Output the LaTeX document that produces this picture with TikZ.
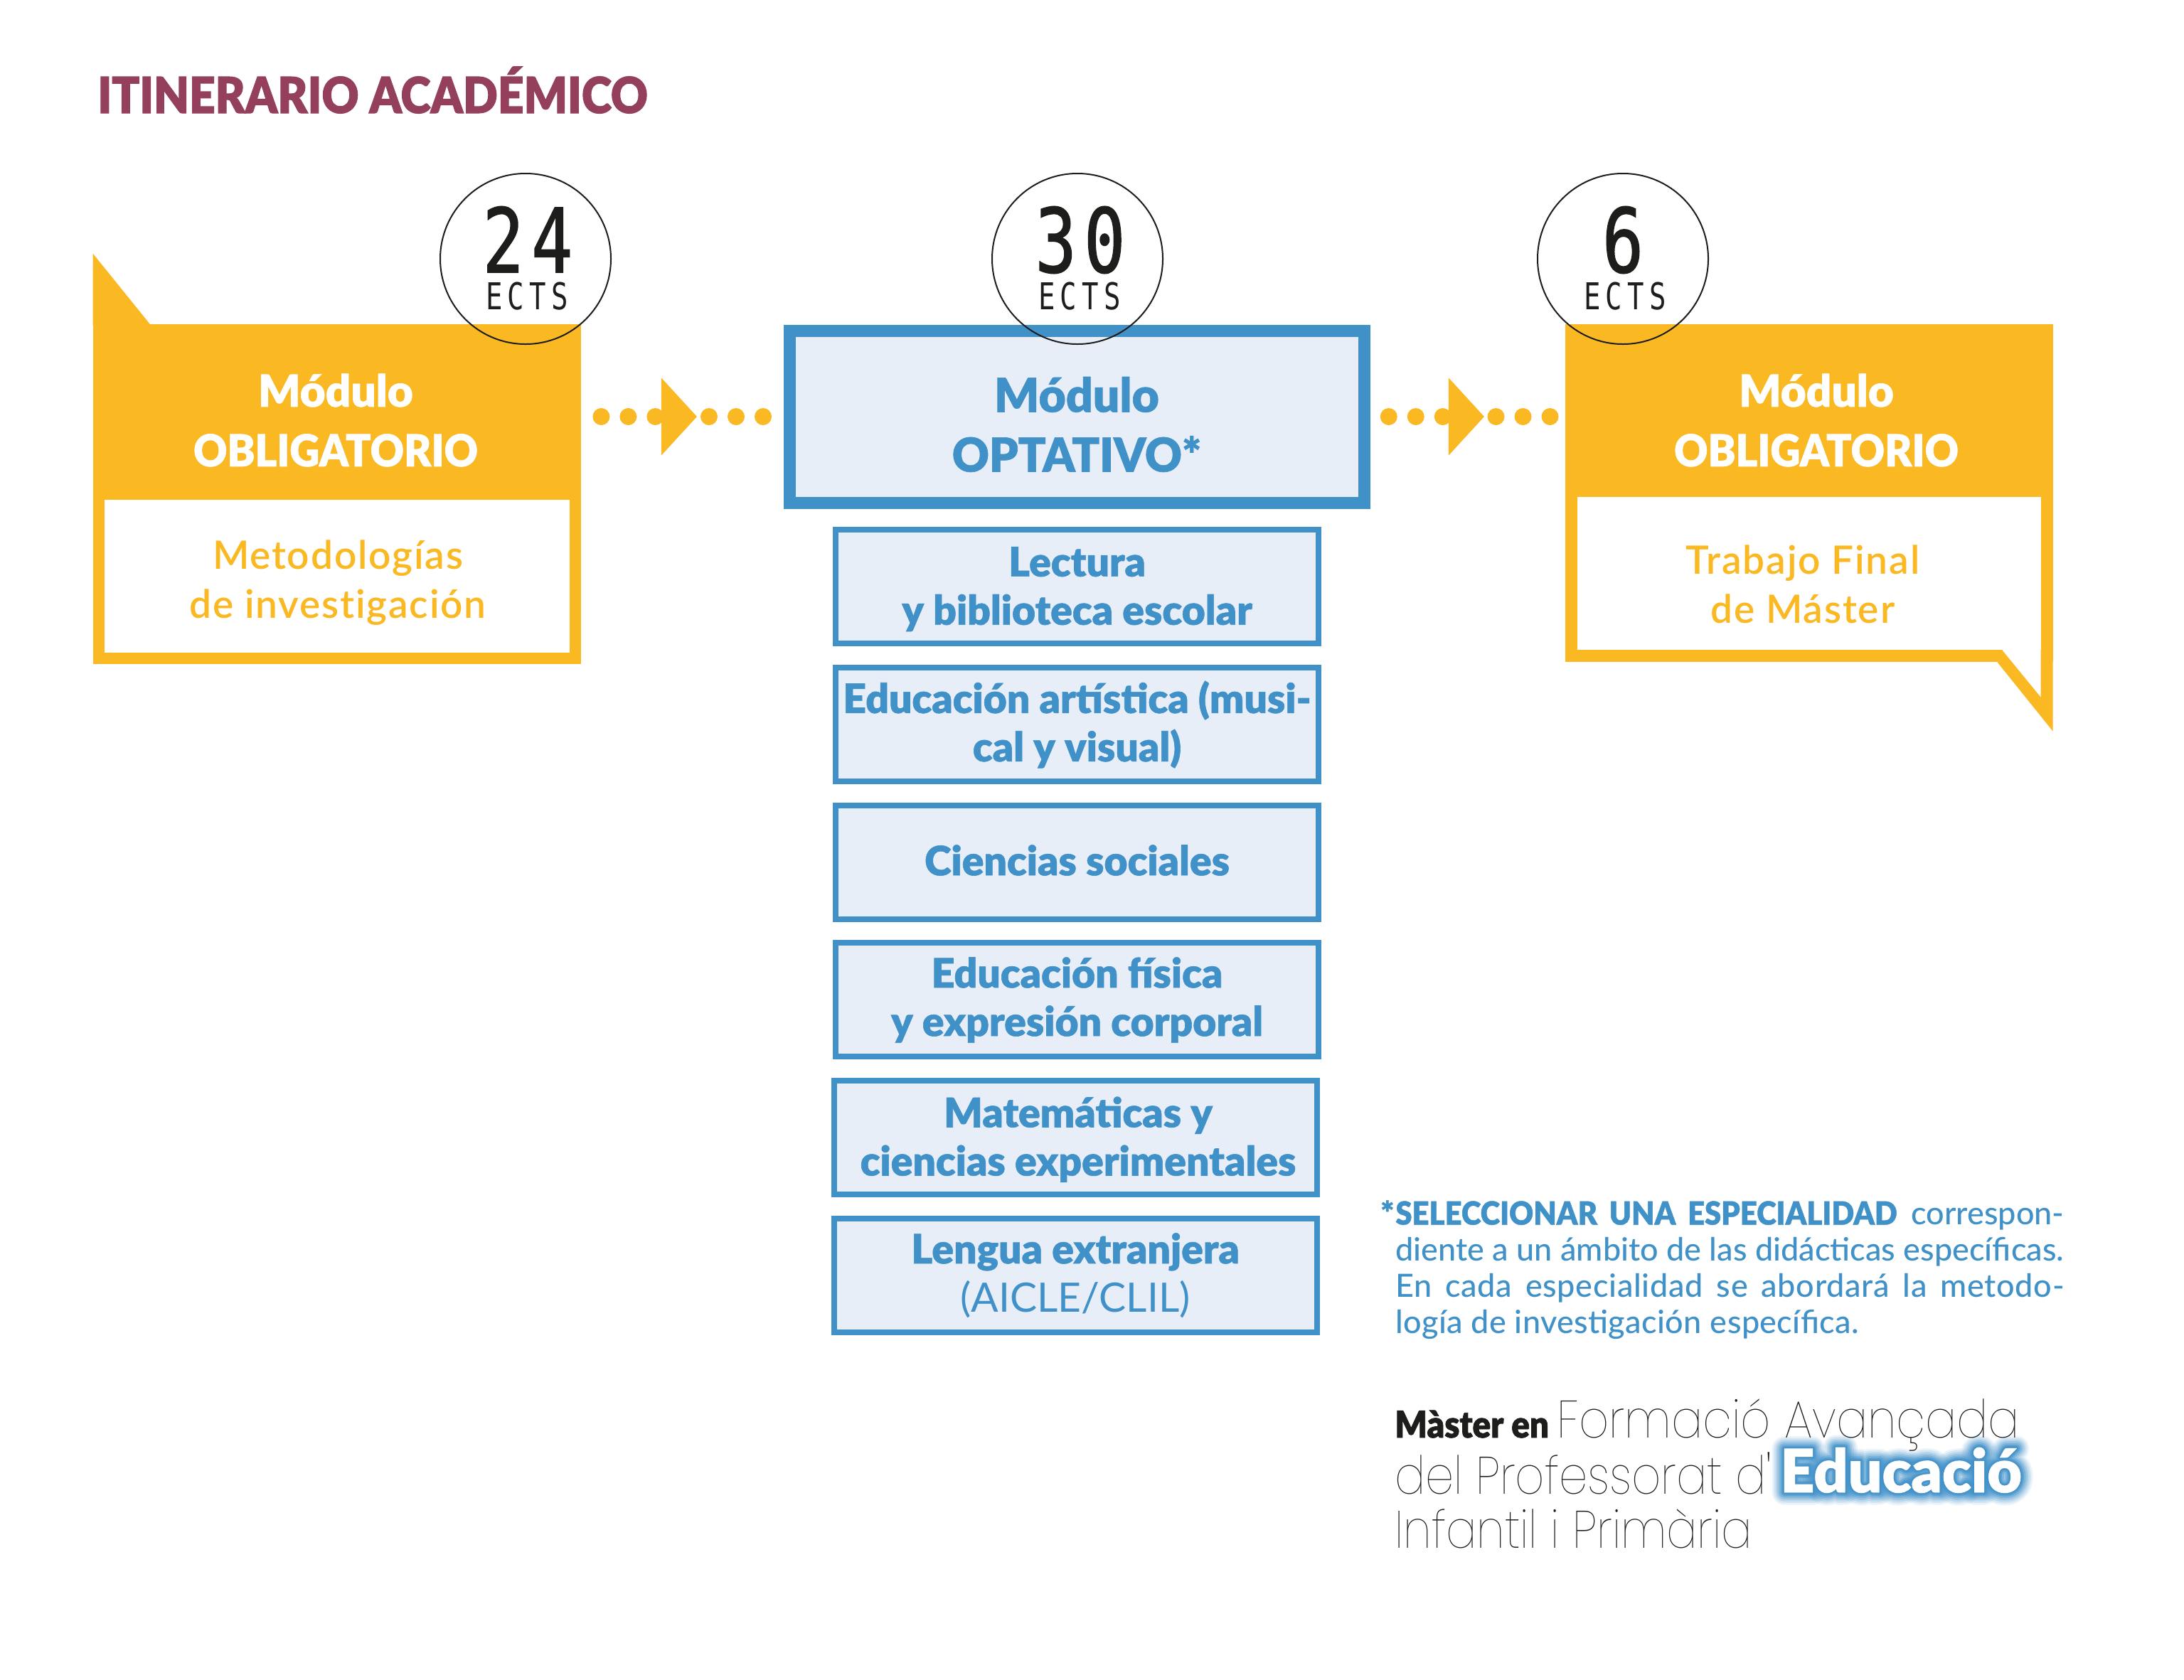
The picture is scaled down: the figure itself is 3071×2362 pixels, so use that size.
\documentclass[tikz,border=0pt]{standalone}
\usepackage{fontspec}
\setmainfont{Lato}
\newfontfamily\heavyfont[FakeBold=1]{Lato Black}
\newfontfamily\heavynarrow[FakeBold=1,FakeStretch=.94]{Lato Black}
\newfontfamily\titlefont[FakeBold=1.5,FakeStretch=.915]{Lato Black}
\newfontfamily\midfont[LetterSpace=3.3,Ligatures=NoCommon]{Lato Semibold}
\newfontfamily\notefont{Lato Medium}
\newfontfamily\thinfont[FakeStretch=.885]{Poppins Thin}
\newfontfamily\digfont[FakeStretch=.77,LetterSpace=8.6,FakeBold=1.2]{DejaVu Sans Mono}
\newfontfamily\ectsfont[FakeStretch=.75,LetterSpace=14]{DejaVu Sans Mono}
\usetikzlibrary{positioning,shapes.geometric}
\definecolor{modyel}{HTML}{FAB822}
\definecolor{modblue}{HTML}{4191C9}
\definecolor{modpale}{HTML}{E7EEF8}
\definecolor{titlered}{HTML}{943F5B}
\definecolor{inkblack}{HTML}{1D1D1B}
\tikzstyle{head}=[rectangle,fill=modyel,minimum width=343pt,inner sep=0pt]
\tikzstyle{body}=[rectangle,draw=modyel,fill=white,line width=8pt,minimum width=335pt,inner sep=0pt]
\tikzstyle{headtxt}=[white,align=center,font=\heavyfont\fontsize{31}{42}\selectfont]
\tikzstyle{bodytxt}=[modyel,align=center,font=\midfont\fontsize{27.5}{34.5}\selectfont]
\tikzstyle{optbox}=[rectangle,draw=modblue,fill=modpale,line width=8.25pt,minimum width=404pt,minimum height=121pt]
\tikzstyle{subbox}=[rectangle,draw=modblue,fill=modpale,line width=4pt,minimum width=339.5pt,minimum height=80pt,inner sep=0pt,
			  align=center,text=modblue,font=\heavyfont\fontsize{28.5}{34}\selectfont]
\tikzstyle{ring}=[circle,draw=inkblack,line width=1pt,minimum size=120pt,inner sep=0pt]
\tikzstyle{numtxt}=[anchor=base,inkblack,inner sep=0pt,font=\digfont\fontsize{62.5}{64}\selectfont]
\tikzstyle{ectstxt}=[anchor=base,inkblack,inner sep=0pt,font=\ectsfont\fontsize{26}{26}\selectfont]
\tikzstyle{tip}=[isosceles triangle,isosceles triangle stretches,shape border rotate=0,fill=modyel,
			  minimum width=54.5pt,minimum height=25pt,inner sep=0pt,anchor=apex]
\tikzstyle{dotline}=[modyel,line width=12pt,line cap=round,dash pattern=on 0pt off 19pt]
\tikzstyle{noteline}=[anchor=west,inner sep=0pt,align=left,modblue,font=\notefont\fontsize{22.5}{25.5}\selectfont]
\tikzstyle{thinline}=[anchor=base west,inner sep=0pt,inkblack,font=\thinfont\fontsize{37}{37}\selectfont]

\begin{document}
\begin{tikzpicture}[x=.5pt,y=-.5pt]

	\useasboundingbox (0,0) rectangle (3071,2362);

	\node[anchor=base west,inner sep=0pt,titlered,font=\titlefont\fontsize{35}{35}\selectfont] (title) at (137,159) {ITINERARIO ACADÉMICO};

	\node[head,minimum height=123.5pt] (headA) at (474,579.5) {};
	\node[body,minimum height=115.5pt,below=-8pt of headA] (bodyA) {};
	\fill[modyel] ([yshift=-1pt]headA.north west) -- ++(0,-101) -- ++(80,99) -- ++(0,2) -- cycle;
	\node[headtxt] (labA) at (472,591) {Módulo\\{\heavynarrow OBLIGATORIO}};
	\node[bodytxt] (txtA) at (475,820) {Metodologías\\de investigación};

	\node[optbox] (opt) at (1514.5,586.5) {};
	\node[headtxt,text=modblue,font=\heavyfont\fontsize{33}{42}\selectfont] (labO) at (1514,597) {Módulo\\{\addfontfeature{FakeStretch=.97}OPTATIVO*}};

	\node[subbox,below=12.8pt of opt] (sub1) {\rule{0pt}{24pt}Lectura\\y biblioteca escolar};
	\node[subbox,below=12.85pt of sub1] (sub2) {Educación artística (musi-\\cal y visual)};
	\node[subbox,below=12.85pt of sub2] (sub3) {\rule[-3pt]{0pt}{3pt}Ciencias sociales};
	\node[subbox,below=12.85pt of sub3] (sub4) {Educación física\\y expresión corporal};
	\node[subbox,below=12.85pt of sub4,xshift=-1.25pt] (sub5) {\hspace*{4pt}\rule{0pt}{24pt}Matemáticas y\\\hspace*{4pt}ciencias experimentales};
	\node[subbox,below=12.85pt of sub5] (sub6) {Lengua extranjera\\{\normalfont(AICLE/CLIL)}};

	\node[head,minimum height=121.5pt] (headB) at (2543.5,577.5) {};
	\node[body,minimum width=334.5pt,minimum height=116pt,line width=8.5pt,below=-8.5pt of headB] (bodyB) {};
	\fill[modyel] (bodyB.south east) ++(-78,0) -- ++(78,97) -- ++(0,-114) -- cycle;
	\fill[white] (bodyB.south east) ++(-71,-19) -- ++(0,2) -- ++(54,66) -- ++(0,-68) -- cycle;
	\node[headtxt] (labB) at (2554,591) {Módulo\\{\heavynarrow OBLIGATORIO}};
	\node[bodytxt] (txtB) at (2535,822) {Trabajo Final\\de Máster};

	\node[ring] (ringA) at (739,364) {};
	\node[numtxt] (numA) at (742,383) {24};
	\node[ectstxt] (ectsA) at (741,435) {ECTS};
	\node[ring] (ringO) at (1515,364) {};
	\node[numtxt] (numO) at (1519,383) {30};
	\node[ectstxt] (ectsO) at (1518,435) {ECTS};
	\node[ring] (ringB) at (2282,364) {};
	\node[numtxt] (numB) at (2282,383) {6};
	\node[ectstxt] (ectsB) at (2285,435) {ECTS};

	\node[tip] (tipA) at (981,586) {};
	\node[tip] (tipB) at (2088,586) {};
	\draw[dotline,shorten <=14pt] (headA.east |- tipA.apex) -- (tipA.apex);
	\draw[dotline,shorten <=8pt] (tipA.apex) -- (opt.west |- tipA.apex);
	\draw[dotline,shorten <=13pt] (opt.east |- tipB.apex) -- (tipB.apex);
	\draw[dotline,shorten <=7.75pt] (tipB.apex) -- (headB.west |- tipB.apex);

	\node[noteline] (note) at (1962,1786) {\makebox[470pt][s]{\llap{\heavyfont*\hspace{1pt}}{\heavynarrow\addfontfeature{FakeStretch=.93}SELECCIONAR UNA ESPECIALIDAD} correspon-}\\
		diente a un ámbito de las didácticas específicas.\\
		\makebox[470pt][s]{\addfontfeature{LetterSpace=1.5}En cada especialidad se abordará la metodo-}\\
		{\addfontfeature{LetterSpace=.8}logía de investigación específica.}};

	\node[anchor=base west,inner sep=0pt,inkblack,font=\titlefont\fontsize{26}{26}\selectfont] (master) at (1961,2022) {Màster en};
	\node[thinline] (form) at (2189,2022) {Formació Avançada};
	\node[thinline] (prof) at (1961,2101) {\addfontfeature{FakeStretch=.865}del Professorat d'};
	\node[thinline] (inf) at (1961,2177) {\addfontfeature{FakeStretch=.868}Infantil i Primària};

	\begin{scope}[line join=round,miter limit=1]
	\foreach \w/\o in {42/.10,36/.14,30/.18,24/.25,18/.35,12/.5,7/.8}
		\node[anchor=base west,inner sep=0pt,text=modblue,text opacity=\o,font=\heavyfont\fontsize{42}{42}\selectfont\addfontfeature{FakeBold=\w}] (glow\w) at (2503,2099) {Educació};
	\end{scope}
	\node[anchor=base west,inner sep=0pt,white,font=\heavyfont\fontsize{42}{42}\selectfont] (edu) at (2503,2099) {Educació};

\end{tikzpicture}
\end{document}
